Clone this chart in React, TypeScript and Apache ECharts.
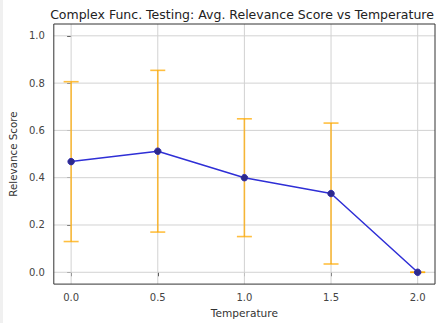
import React, { useEffect, useRef } from "react";
import * as echarts from "echarts";

const temperatures = [0.0, 0.5, 1.0, 1.5, 2.0];
const scores = [0.468, 0.512, 0.4, 0.333, 0.0];
const errors = [0.338, 0.342, 0.249, 0.298, 0.0];
const xTicks = [0.0, 0.5, 1.0, 1.5, 2.0];
const yTicks = [0.0, 0.2, 0.4, 0.6, 0.8, 1.0];

const FONT = "DejaVu Sans";
const GRID_COLOR = "#d2d2d2";

export default function App() {
  const ref = useRef<HTMLDivElement>(null);
  useEffect(() => {
    if (!ref.current) return;
    const chart = echarts.init(ref.current, null, { renderer: "svg" });
    const errData = temperatures.map((t, i) => [t, scores[i] - errors[i], scores[i] + errors[i]]);
    chart.setOption({
      animation: false,
      backgroundColor: "#ffffff",
      title: {
        text: "Complex Func. Testing: Avg. Relevance Score vs Temperature",
        left: 237,
        top: 3,
        textAlign: "center",
        textStyle: { fontFamily: FONT, fontSize: 12.5, fontWeight: "normal", color: "#222" },
      },
      graphic: [
        { type: "rect", left: 0, top: 0, shape: { width: 3, height: 323 }, style: { fill: "#f0f0f0" } },
      ],
      grid: {
        left: 52,
        right: 6,
        top: 24,
        bottom: 34,
        show: true,
        borderColor: "#333",
        borderWidth: 1,
        backgroundColor: "transparent",
        z: 10,
      },
      xAxis: {
        type: "value",
        min: -0.1,
        max: 2.1,
        name: "Temperature",
        nameLocation: "middle",
        nameGap: 20,
        nameTextStyle: { fontFamily: FONT, fontSize: 10.6, color: "#333" },
        axisLine: { show: false },
        axisTick: { show: true, length: 4, customValues: xTicks, lineStyle: { color: "#333" } },
        axisLabel: {
          customValues: xTicks,
          margin: 8,
          fontFamily: FONT,
          fontSize: 10,
          color: "#444",
          formatter: (v: number) => v.toFixed(1),
        },
        splitLine: { show: false },
      },
      yAxis: {
        type: "value",
        min: -0.05,
        max: 1.05,
        name: "Relevance Score",
        nameLocation: "middle",
        nameGap: 31,
        nameRotate: 90,
        nameTextStyle: { fontFamily: FONT, fontSize: 10.3, color: "#333" },
        axisLine: { show: false },
        axisTick: { show: true, length: 4, customValues: yTicks, lineStyle: { color: "#333" } },
        axisLabel: {
          customValues: yTicks,
          margin: 9,
          fontFamily: FONT,
          fontSize: 10,
          color: "#444",
          formatter: (v: number) => v.toFixed(1),
        },
        splitLine: { show: false },
      },
      series: [
        {
          type: "custom",
          z: 1,
          silent: true,
          data: xTicks.map((v) => [v, 0]),
          renderItem: (params: any, api: any) => {
            const cs = params.coordSys;
            const p = api.coord([api.value(0), 0]);
            return {
              type: "line",
              shape: { x1: p[0], y1: cs.y, x2: p[0], y2: cs.y + cs.height },
              style: { stroke: GRID_COLOR, lineWidth: 1 },
            };
          },
        },
        {
          type: "custom",
          z: 1,
          silent: true,
          data: yTicks.map((v) => [0, v]),
          renderItem: (params: any, api: any) => {
            const cs = params.coordSys;
            const p = api.coord([0, api.value(1)]);
            return {
              type: "line",
              shape: { x1: cs.x, y1: p[1], x2: cs.x + cs.width, y2: p[1] },
              style: { stroke: GRID_COLOR, lineWidth: 1 },
            };
          },
        },
        {
          type: "custom",
          z: 2,
          data: errData,
          renderItem: (params: any, api: any) => {
            const x = api.value(0);
            const lo = api.coord([x, api.value(1)]);
            const hi = api.coord([x, api.value(2)]);
            const cap = 7.5;
            const style = { stroke: "rgba(255,170,0,0.75)", lineWidth: 1.6 };
            return {
              type: "group",
              children: [
                { type: "line", shape: { x1: lo[0], y1: lo[1], x2: hi[0], y2: hi[1] }, style },
                { type: "line", shape: { x1: lo[0] - cap, y1: lo[1], x2: lo[0] + cap, y2: lo[1] }, style },
                { type: "line", shape: { x1: hi[0] - cap, y1: hi[1], x2: hi[0] + cap, y2: hi[1] }, style },
              ],
            };
          },
        },
        {
          type: "line",
          z: 3,
          data: temperatures.map((t, i) => [t, scores[i]]),
          symbol: "circle",
          symbolSize: 6.5,
          lineStyle: { color: "#2f2fd6", width: 1.5 },
          itemStyle: { color: "#2e2a8c", borderColor: "#2e2aa8", borderWidth: 1 },
        },
      ],
    });
    return () => chart.dispose();
  }, []);
  return (
    <div
      ref={ref}
      style={{ position: "absolute", left: 0, top: 0, width: 441, height: 323 }}
    />
  );
}
